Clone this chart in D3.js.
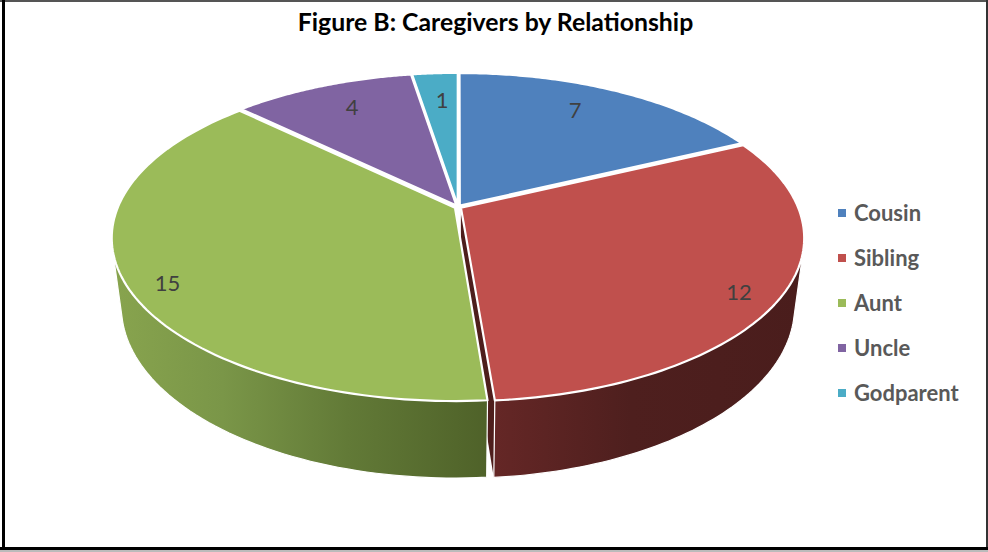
<!DOCTYPE html>
<html>
<head>
<meta charset="utf-8">
<script src="https://cdn.jsdelivr.net/npm/d3@7"></script>
<style>
html,body{margin:0;padding:0;background:#fff;}
svg{display:block;}
text{font-family:Lato,"Noto Sans",sans-serif;}
</style>
</head>
<body>
<svg id="chart" width="988" height="552"></svg>
<script>
const title = "Figure B: Caregivers by Relationship";
const categories = ["Cousin", "Sibling", "Aunt", "Uncle", "Godparent"];
const values = [7, 12, 15, 4, 1];
const colors = ["#4f81bd", "#c0504d", "#9bbb59", "#8064a2", "#4bacc6"];

// Layout of the 3D projection
const W = 988, H = 552;
const cx = 458, cy = 207, radX = 337, radY = 157.5, persp = 0.184;
const depth = 67.2, baseScale = 0.972, explode = 0.01;
const labelRadius = 0.85;
const labelNudge = [[-18, 3], [12, 13], [-13, 15], [11, 4], [4, 9]];

const svg = d3.select("#chart");
const defs = svg.append("defs");

const pie = d3.pie().sort(null).value(d => d)(values);

// level 0 is the top face, level 1 the bottom face further from the viewer
function project(u, v, level) {
  const d = 1 - persp * v;
  const s = level ? baseScale : 1;
  return [cx + s * radX * u / d, cy + (s * radY * v + (level ? depth : 0)) / d];
}
function polar(t, r, off, level) {
  const u = r * Math.sin(t) + off[0], v = -r * Math.cos(t) + off[1];
  return project(u, v, level);
}
function offsetOf(s) {
  const m = (s.startAngle + s.endAngle) / 2;
  return [explode * Math.sin(m), -explode * Math.cos(m)];
}
function rimPoints(s, level) {
  const off = offsetOf(s);
  return d3.range(0, 97).map(i => polar(s.startAngle + (s.endAngle - s.startAngle) * i / 96, 1, off, level));
}
const line = d3.line().curve(d3.curveLinear);

function gradient(id, stops) {
  const g = defs.append("linearGradient").attr("id", id)
    .attr("gradientUnits", "userSpaceOnUse")
    .attr("x1", 112).attr("x2", 804).attr("y1", 0).attr("y2", 0);
  stops.forEach(s => g.append("stop").attr("offset", s[0]).attr("stop-color", s[1]));
}
gradient("wallSibling", [[0.55, "#652726"], [0.75, "#4e1f1e"], [1, "#4a1d1c"]]);
gradient("wallAunt", [[0, "#88a44e"], [0.16, "#7a9648"], [0.34, "#627a37"], [0.54, "#4f6229"]]);

// frame
svg.append("rect").attr("width", W).attr("height", H).attr("fill", "#fff");
const frame = [
  [0, 0, W, 2, "#555"],
  [W - 2, 0, 2, H, "#333"],
  [2, 0, 3, H - 2, "#000"],
  [0, 547, W, 3, "#000"],
  [0, 550, W, 2, "#bbb"]
];
svg.selectAll("rect.frame").data(frame).join("rect").attr("class", "frame")
  .attr("x", d => d[0]).attr("y", d => d[1]).attr("width", d => d[2]).attr("height", d => d[3])
  .attr("fill", d => d[4]);

// cut face of the Sibling slice, seen through the gap next to the Aunt slice
{
  const s = pie[1], off = offsetOf(s);
  const pts = [project(off[0], off[1], 0), polar(s.endAngle, 1, off, 0), polar(s.endAngle, 1, off, 1), project(off[0], off[1], 1)];
  svg.append("path").attr("d", line(pts) + "Z").attr("fill", "#4e1e1c");
}

// outer walls: silhouette of the top and bottom rims of the two front slices
[[1, "wallSibling"], [2, "wallAunt"]].forEach(([i, id]) => {
  const hull = d3.polygonHull(rimPoints(pie[i], 0).concat(rimPoints(pie[i], 1)));
  svg.append("path").attr("d", line(hull) + "Z")
    .attr("fill", `url(#${id})`).attr("stroke", "#fff").attr("stroke-width", 1.2).attr("stroke-linejoin", "round");
});

// top faces
pie.forEach((s, i) => {
  const off = offsetOf(s);
  const pts = [project(off[0], off[1], 0)].concat(rimPoints(s, 0));
  svg.append("path").attr("d", line(pts) + "Z")
    .attr("fill", colors[i]).attr("stroke", "#fff").attr("stroke-width", 2.2).attr("stroke-linejoin", "round");
});

// data labels
pie.forEach((s, i) => {
  const m = (s.startAngle + s.endAngle) / 2;
  const p = polar(m, labelRadius, [0, 0], 0);
  svg.append("text").attr("x", p[0] + labelNudge[i][0]).attr("y", p[1] + labelNudge[i][1])
    .attr("dy", "0.35em").attr("text-anchor", "middle")
    .attr("font-size", 22).attr("fill", "#404040").text(values[i]);
});

// title
svg.append("text").attr("x", 495.5).attr("y", 31).attr("text-anchor", "middle")
  .attr("font-size", 24.8).attr("font-weight", 700).attr("fill", "#000").text(title);

// legend
const legendY = d3.scalePoint().domain(categories).range([213, 393]);
const legend = svg.selectAll("g.legend").data(categories).join("g").attr("class", "legend")
  .attr("transform", d => `translate(0,${legendY(d)})`);
legend.append("rect").attr("x", 838).attr("y", -4).attr("width", 8).attr("height", 8)
  .attr("fill", (d, i) => colors[i]);
legend.append("text").attr("x", 854).attr("dy", "0.35em")
  .attr("font-size", 22).attr("font-weight", 700).attr("fill", "#595959").text(d => d);
</script>
</body>
</html>
